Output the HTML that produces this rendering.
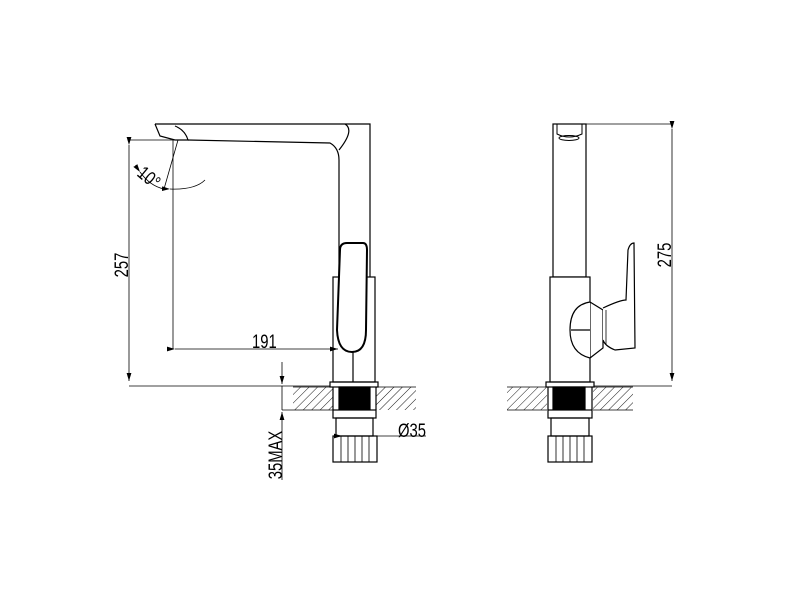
<!DOCTYPE html>
<html><head><style>html,body{margin:0;padding:0;background:#fff}svg{display:block}</style></head><body>
<svg width="800" height="600" xmlns="http://www.w3.org/2000/svg" font-family="Liberation Sans, sans-serif">
<defs>
<pattern id="h" width="6" height="6" patternUnits="userSpaceOnUse" patternTransform="rotate(45)"><line x1="0" y1="0" x2="0" y2="6" stroke="#000" stroke-width="0.9"/></pattern>
<marker id="a" markerWidth="10" markerHeight="6" refX="10" refY="3" orient="auto"><path d="M0,0 L10,3 L0,6z" fill="#000"/></marker>
</defs>
<g fill="none" stroke="#000" stroke-width="1.2">
<!-- LEFT VIEW -->
<path d="M155,124 L370,124 L370,277"/>
<path d="M188,140 L330,143 Q339,148 339,160 L339,277"/>
<path d="M155,124 L160,136 L175,140 L188,140 Q185,130 175,126" />
<path d="M345,124 Q355,130 339,150"/>
<rect x="333" y="277" width="42" height="105" fill="#fff"/>
<path d="M340,250 Q340,243 347,243 L363,243 Q367,243 367,250 L366,330 Q366,352 352,352 Q338,352 337,330 Z" fill="#fff" stroke-width="2"/>
<line x1="353" y1="352" x2="353" y2="382"/>
<!-- dims -->
<line x1="129" y1="140" x2="186" y2="140" stroke-width="0.8"/>
<line x1="129" y1="386" x2="330" y2="386" stroke-width="0.8"/>
<line x1="129" y1="145" x2="129" y2="381" stroke-width="0.8" marker-start="url(#a)" marker-end="url(#a)"/>
<line x1="173" y1="140" x2="173" y2="349" stroke-width="0.8"/>
<line x1="175" y1="349" x2="338" y2="349" stroke-width="0.8" marker-start="url(#a)" marker-end="url(#a)"/>
<line x1="178" y1="140" x2="164" y2="189" stroke-width="0.8"/>
<path d="M140,172 Q150,186 164,189" stroke-width="0.8" marker-start="url(#a)"/>
<path d="M170,189 Q195,190 205,180" stroke-width="0.8" marker-start="url(#a)"/>
<line x1="282" y1="362" x2="282" y2="384" stroke-width="0.8" marker-end="url(#a)"/>
<line x1="282" y1="480" x2="282" y2="412" stroke-width="0.8" marker-end="url(#a)"/>
<line x1="282" y1="386" x2="282" y2="410" stroke-width="0.8"/>
<line x1="282" y1="410" x2="333" y2="410" stroke-width="0.8"/>
<!-- base left -->
<rect x="293" y="387" width="40" height="23" fill="url(#h)" stroke="none"/>
<rect x="376" y="387" width="40" height="23" fill="url(#h)" stroke="none"/>
<line x1="293" y1="387" x2="416" y2="387" stroke-width="0.8"/>
<rect x="330" y="382" width="48" height="5"/>
<rect x="339" y="387" width="31" height="22" fill="#000"/>
<line x1="333" y1="387" x2="333" y2="410"/><line x1="376" y1="387" x2="376" y2="410"/>
<rect x="333" y="410" width="43" height="8"/>
<rect x="336" y="418" width="37" height="18"/>
<rect x="333" y="436" width="44" height="26"/>
<path d="M341,436V462M348,436V462M355,436V462M362,436V462M369,436V462" stroke-width="0.8"/>
<line x1="342" y1="436" x2="426" y2="436" stroke-width="0.8" marker-start="url(#a)"/>
<!-- RIGHT VIEW -->
<rect x="553" y="124" width="33" height="153"/>
<path d="M557,124 L557,134 Q569,140 582,134 L582,124" stroke-width="1"/>
<ellipse cx="569" cy="138" rx="10" ry="2.5" stroke-width="1"/>
<rect x="550" y="277" width="40" height="105" fill="#fff"/>
<path d="M590,302 Q570,305 570,330 Q570,353 590,358" fill="#fff"/>
<line x1="571" y1="330" x2="590" y2="330"/>
<path d="M590,302 L603,310 L603,348 L590,358"/>
<path d="M603,308 Q620,300 626,300 L628,250 Q630,243 634,243 L635,348 L615,350 Q605,346 603,340" fill="#fff"/>
<path d="M606,310 L606,345" stroke-width="0.8"/>
<line x1="586" y1="124" x2="672" y2="124" stroke-width="0.8"/>
<line x1="594" y1="386" x2="672" y2="386" stroke-width="0.8"/>
<line x1="672" y1="129" x2="672" y2="381" stroke-width="0.8" marker-start="url(#a)" marker-end="url(#a)"/>
<rect x="507" y="387" width="40" height="23" fill="url(#h)" stroke="none"/>
<rect x="593" y="387" width="40" height="23" fill="url(#h)" stroke="none"/>
<line x1="507" y1="387" x2="633" y2="387" stroke-width="0.8"/>
<line x1="507" y1="410" x2="547" y2="410" stroke-width="0.8"/>
<line x1="593" y1="410" x2="633" y2="410" stroke-width="0.8"/>
<rect x="546" y="382" width="48" height="5"/>
<rect x="553" y="387" width="32" height="22" fill="#000"/>
<line x1="548" y1="387" x2="548" y2="410"/><line x1="592" y1="387" x2="592" y2="410"/>
<rect x="548" y="410" width="44" height="8"/>
<rect x="551" y="418" width="38" height="18"/>
<rect x="548" y="436" width="44" height="26"/>
<path d="M556,436V462M563,436V462M570,436V462M577,436V462M584,436V462" stroke-width="0.8"/>
</g>
<g font-size="19" fill="#000">
<text transform="translate(252,348) scale(0.78,1)">191</text>
<text transform="translate(398,437) scale(0.78,1)">Ø35</text>
<text transform="translate(128,265) rotate(-90) scale(0.78,1)" text-anchor="middle">257</text>
<text transform="translate(671,255) rotate(-90) scale(0.78,1)" text-anchor="middle">275</text>
<text transform="translate(282,455) rotate(-90) scale(0.78,1)" text-anchor="middle">35MAX</text>
<text transform="translate(136,175) rotate(40) scale(0.8,1)">10°</text>
</g>
</svg>
</body></html>
